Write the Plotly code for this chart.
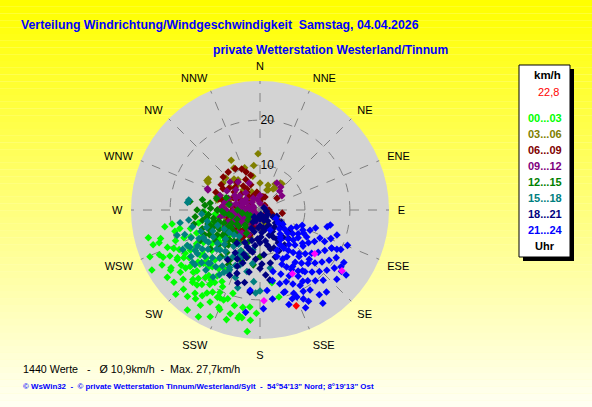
import plotly.graph_objects as go

W, H = 592, 407

# ---------------- data ----------------
dir_labels = ["N", "NNE", "NE", "ENE", "E", "ESE", "SE", "SSE",
              "S", "SSW", "SW", "WSW", "W", "WNW", "NW", "NNW"]
dir_ticks = [0, 22.5, 45, 67.5, 90, 112.5, 135, 157.5,
             180, 202.5, 225, 247.5, 270, 292.5, 315, 337.5]
radial_ticks = [10, 20]
radial_max = 28.7

group_names = ["00...03", "03...06", "06...09", "09...12",
               "12...15", "15...18", "18...21", "21...24"]
group_colors = ["#00ff00", "#808000", "#800000", "#800080",
                "#008000", "#008080", "#000080", "#0000ff"]

# (direction deg, speed km/h) per 3-hour block
pts_00_03 = [(261,19.8),(257,18.3),(256,25.6),(252,23.6),(247,26.6),(244,24),(241,27.5),(237,23.6),
             (235,21.4),(231,20),(224,24.5),(220,25.1),(216,24.4),(216,27.5),(210,27.4),(205,26.2),
             (203,23.5),(202,21.6),(191.5,24.5),(186,27.2),(189.5,24.3),(224,21.5),(220,21.8),(212.6,21.9),
             (210,21.1),(206,21.6),(240,19.2),(239,21.5),(219,19.3),(227,20.3),(248,22.2),(240.7,25),
             (204.4,21.5),(208.5,23.3),(186,21.7),(191,24),(185,24.6),(202,23.9),(167.7,19.8),(170.7,16.4),
             (245,9),(250,10),(255,11),(260,12),(265,10),(240,12),(235,13),(230,14),(225,15),(232,16),
             (238,17),(244,18),(228,18),(222,17),(215,16),(250,15),(255,16),(246,14),(236,11),(230,9),
             (258,8),(252,6),(262,9.5),(268,12.5),(215,19),(208,18),(198,19.5),(195,22),(212,25),(228,23),
             (234,25.5),(250,20),(254,23),(246,21),(232,22.5),(225,26.5),(197,25.5),(182,23),
             (233,16.7),(222,15),(240,17.9),(210,15.4),(226,17),(218,18.5),(236,19),(230,18),(242,16),
             (214,20),(222,20.5),(206,19),(240,21.2),(240,16.6),(227,17.3),(223,22),(206,20.4),
             (235,15.5),(228,16),(220,16.5),(213,17.5),(238,20),(232,21),(226,19.5),(218,21),(212,19),
             (244,20),(250,18),(256,19.5),(260,21.5),(252,25),(246,24.5),(236,24),(230,25),(218,23.5),
             (214,23),(200,21),(196,24),(190,22),(243,22.5),(249,16.5),(226,12.5),(232,11.5),(240,14.5),
             (258,14)]
pts_03_06 = [(328,11),(313,10.4),(299,13.5),(301,13.4),(348,7.7),(18,5.8),(34,5.9),(40,7.6),(19,4.7),
             (317,7.5),(307,8.4),(324,8.3),(283,9.8),(311,7.4),(320,5.8),(336,4.4),(32,5.5),(30,6.7),
             (37,7.5),(22,4.8),(306,10.2),(298,13.1),(287,10),(262,12.1),
             (245,5.4),(200,6.4),(184,6.5),(174,4.5),(230,7),(215,5),(255,3),(270,6),(280,4),(260,8),
             (240,9),(290,7),(300,5),(310,3),(330,3),(350,4),(0,6),(10,3),(225,3),(250,6.5),(275,8),
             (265,4.5),(235,5.5),(290,9.5),(320,9),(340,10),(352,10),(358,12.5),(330,12.8),(210,8),
             (195,4),(160,3)]
pts_06_09 = [(336,10),(329,10.7),(303,10.3),(292,10.6),(285,8.7),(305,8.4),(324,4.9),(21,3.1),(55,4.6),
             (98,5),(120,4.4),(202,6),(13,3),(108,2.8),(340,9),(320,11),(312,11),(345,8),
             (0,2),(45,1.5),(90,2),(135,1.5),(180,2),(225,2.5),(270,1.5),(315,2.5),(250,2),(290,2.5),
             (200,4),(215,3.5),(230,4.5),(245,3.5),(260,4.5),(275,3.5),(290,4.5),(305,3.5),(320,4),
             (335,3.5),(350,4),(205,6),(220,5.5),(235,6.5),(250,5.5),(265,6.5),(280,5.5),(295,6.5),
             (310,5.5),(325,6.5),(340,6),(215,8),(230,7.5),(245,8.5),(260,7.5),(275,8.5),(290,7.5),
             (305,7),(320,8),(335,7.5),(270,9.5),(285,9.5),(300,9.5),
             (240,5),(255,6),(268,5),(282,7),(298,5),(312,7.5),(328,5.5),(228,6.5),(212,7),(252,7.5),
             (262,3),(278,6.5)]
pts_09_12 = [(291,12.4),(292,12.6),(32,7.1),(57,5.8),(0,3.3),(322,7.9),(313,9.1),(42,6.9),(46,6.1),
             (338,6.5),(0,1.5),(60,1.2),(120,1.8),(180,1.5),(240,1.2),(300,1.8),
             (200,3),(220,2.5),(240,3.5),(255,2.5),(270,3.5),(285,2.5),(300,3.5),(315,2.5),(330,3),
             (345,2.5),(215,5),(230,4.5),(245,5.5),(255,4.5),(265,5.5),(275,4.5),(285,5.5),(295,4.5),
             (305,5.5),(320,5),(225,7),(240,6.5),(250,7.5),(260,6.5),(270,7.5),(280,6.5),(290,7.5),
             (300,6.5),(310,7),(245,8.5),(260,9),(275,8.5),(290,9.5),(300,8.5),
             (250,4),(260,3),(265,4.5),(275,3),(280,5),(250,6),(235,5.5),(225,4),(210,4.5),(205,6),
             (218,6.5),(232,8),(262,8),(282,8),(268,6),(258,5.5),(242,4.5),(288,4),(296,6),(308,4),
             (238,2.5),(270,2),(290,1.5)]
pts_12_15 = [(253,11.6),(229,10.2),(275,12.3),(211,13),(225,4.7),(243,14.9),(278,11.2),(268,12.7),
             (264,14.5),(277,15.7),(195,10.8),(180,10.4),(187,12.3),
             (235,8),(240,9),(245,10),(250,11),(255,12),(260,13),(245,7),(250,8.5),(255,9.5),(260,10.5),
             (265,11.5),(240,11),(235,12),(230,12),(225,11),(220,9),(230,8),(238,6),(248,5.5),(258,6.5),
             (265,8),(270,9.5),(272,11),(262,7),(252,13.5),(244,12.5),(236,10),(228,7.5),(218,12),
             (215,8.5),(205,10),(200,12),(210,14),(220,13.5),(232,14),(258,15),(270,14),(280,13),
             (285,10),(290,8),(280,7),(270,5),(260,4),(250,3),(240,2.5),(230,3.5),(220,5),(210,6),
             (200,7.5),(248,12),(256,10.5),(242,8),(234,9.5),(226,9.5),(252,9.5),(262,12),(268,8.5),
             (238,7.5),(232,6),(246,13.5),(222,10.5)]
pts_15_18 = [(223,16.2),(238,17),(207,14.9),(225,12.6),(204,10.9),(241,13.9),(252,17.6),(183,18.5),
             (276,16.2),(278,16),(261,18),(253,19.3),(243,19.3),(242,17.6),(230,18.9),(215,18.2),
             (207,15.5),(201,11.2),(170,13.1),
             (210,12),(215,13),(220,14),(225,15),(230,16),(235,17),(240,16),(245,15),(250,14),(228,13),
             (233,14.5),(238,13.5),(218,16),(212,17),(222,18),(232,19),(236,15.5),(244,18),(248,16.5),
             (226,11),(232,12),(240,12),(246,11.5),(216,10),(208,14.5),(200,16),(196,18),(192,14),
             (188,12),(200,13),(256,15.5),(262,16),(266,13),(258,12),(250,10),(242,9),(234,8.5),
             (226,8),(218,7.5),(212,9),(205,10),(198,10.5),(190,9),(185,16),(180,18),
             (214,15),(228,17.5),(236,18.5),(220,12),(244,14),(252,12.5),(230,10),(224,16.5),(210,16),
             (204,13.5)]
pts_18_21 = [(158,4.1),(154,6.7),(180,7.3),(194,9.2),(198,12.4),(197,17),(187,18.4),(172,15.7),
             (169,12),(151,8.4),(118,3.3),(157,1.7),(210,3.1),(199,8.7),(213,13.2),
             (140,2),(160,2.5),(180,2),(200,2.5),(220,2),(120,2),(100,1.5),(60,1),(150,4),(165,4.5),
             (175,5),(185,4),(195,5),(205,4.5),(140,5),(130,4.5),(160,6),(170,7),(185,6.5),(195,7),
             (205,8),(150,7.5),(140,8),(130,6),(120,5.5),(110,4),(165,9),(175,10),(185,11),(190,9.5),
             (200,10.5),(205,12),(210,11),(215,9),(180,13),(190,14),(200,15),(205,16),(192,16.5),
             (178,12),(162,11),(155,10),(145,9.5),(135,9),(125,8),(180,3.5),(170,1),(190,1.5),
             (170,4),(178,6),(188,8),(196,11),(202,13.5),(168,8),(160,9),(150,5.5),(145,3),(175,14.5)]
pts_21_24 = [(153,5),(115,10.5),(104,15.4),(115,14.7),(118,18.1),(117,19.2),(127,22.7),(141,23.5),
             (157,21),(164,19.1),(157,9.7),(143,7.5),
             (118,4),(122,6),(125,5),(128,7),(120,8),(115,9),(110,10),(112,12),(108,13),
             (118,11),(122,10),(126,9),(130,8),(132,10),(135,11),(128,12),(124,13),(120,14),(116,16),
             (112,17),(118,18),(122,17),(126,16),(130,15),(134,14),(138,13),(142,12),(145,11),(140,10),
             (136,9),(148,10),(150,12),(146,14),(142,15),(138,16),(134,17),(130,18),(126,19),(122,20),
             (125,22),(128,21),(132,20),(136,19),(140,18),(144,17),(148,16),(152,15),(155,14),(150,17),
             (146,19),(142,20),(138,21),(148,21),(152,19),(156,18),(160,17),(158,20),(154,22),(160,21),
             (163,19),(165,17),(162,15),(158,13),(155,12),(160,11),(168,14),(170,16),(175,18),(178,22),
             (187,18),(188,23),(172,20),(152,23),(145,23),(132,23),(127,24),(112,21),(116,20),(108,18),
             (102,16),(134,6),(140,7),(145,8),(150,9),(146,25),(155,24),(163,22),(122,22),
             (130,12.5),(126,10.5),(135,15.5),(140,13.5),(150,14.5),(145,16.5),(152,20.5),(156,16),
             (149,18.5),(120,12)]
groups = [pts_00_03, pts_03_06, pts_06_09, pts_09_12,
          pts_12_15, pts_15_18, pts_18_21, pts_21_24]

gust_pts = [(128.7,15.6),(126.6,22.7),(153,15.9),(177.5,20.2)]   # magenta marks
current_pt = (159.3,22.8)                                        # red mark
current_label = "22,8"

n_values = "1440"
mean_speed = "10,9"
max_speed = "27,7"

title_1 = "Verteilung Windrichtung/Windgeschwindigkeit  Samstag, 04.04.2026"
title_2 = "private Wetterstation Westerland/Tinnum"
footer = "\u00a9 WsWin32  -  \u00a9 private Wetterstation Tinnum/Westerland/Sylt  -  54\u00b054'13\" Nord; 8\u00b019'13\" Ost"

# ---------------- helpers ----------------
def px(x):
    return x / W

def py(y):
    return 1 - y / H

FONT = "Liberation Sans, Arial, sans-serif"
MSIZE = 5.8

fig = go.Figure()

for pts, name, col in zip(groups, group_names, group_colors):
    fig.add_trace(go.Scatterpolar(
        theta=[p[0] for p in pts], r=[p[1] for p in pts], mode="markers",
        name=name, marker=dict(symbol="diamond", size=MSIZE, color=col, line=dict(width=0)),
        showlegend=False))

fig.add_trace(go.Scatterpolar(
    theta=[p[0] for p in gust_pts], r=[p[1] for p in gust_pts], mode="markers",
    marker=dict(symbol="diamond", size=MSIZE, color="#ff00ff", line=dict(width=0)), showlegend=False))
fig.add_trace(go.Scatterpolar(
    theta=[current_pt[0]], r=[current_pt[1]], mode="markers",
    marker=dict(symbol="diamond", size=MSIZE, color="#ff0000", line=dict(width=0)), showlegend=False))

# background gradient (yellow -> pale yellow)
shapes = []
nb = 60
for i in range(nb):
    b = int(round(242 * i / (nb - 1)))
    shapes.append(dict(type="rect", xref="paper", yref="paper", x0=0, x1=1,
                       y0=py(H * (i + 1) / nb), y1=py(H * i / nb),
                       fillcolor=f"rgb(255,255,{b})", line=dict(width=0), layer="below"))

# legend box with shadow
shapes.append(dict(type="rect", xref="paper", yref="paper", x0=px(523), x1=px(574),
                   y0=py(261), y1=py(69), fillcolor="black", line=dict(width=0)))
shapes.append(dict(type="rect", xref="paper", yref="paper", x0=px(519), x1=px(570),
                   y0=py(257), y1=py(65), fillcolor="white", line=dict(color="black", width=1)))

ann = []
ann.append(dict(text="<b>" + title_1 + "</b>", x=px(19), y=py(25), xanchor="left", yanchor="middle",
                font=dict(family=FONT, size=12.3, color="#0000ff")))
ann.append(dict(text="<b>" + title_2 + "</b>", x=px(211), y=py(50), xanchor="left", yanchor="middle",
                font=dict(family=FONT, size=12.1, color="#0000ff")))
ann.append(dict(text=f"{n_values} Werte   -   \u00d8 {mean_speed}km/h  -  Max. {max_speed}km/h",
                x=px(21), y=py(369), xanchor="left", yanchor="middle",
                font=dict(family=FONT, size=10.7, color="black")))
ann.append(dict(text="<b>" + footer + "</b>", x=px(21), y=py(386), xanchor="left", yanchor="middle",
                font=dict(family=FONT, size=7.9, color="#0000ff")))

ann.append(dict(text="<b>km/h</b>", x=px(547), y=py(75), xanchor="center", yanchor="middle",
                font=dict(family=FONT, size=11.5, color="black")))
ann.append(dict(text=current_label, x=px(561), y=py(92), xanchor="right", yanchor="middle",
                font=dict(family=FONT, size=11, color="#ff0000")))
for i, (name, col) in enumerate(zip(group_names, group_colors)):
    ann.append(dict(text="<b>" + name + "</b>", x=px(545), y=py(118 + 16 * i), xanchor="center",
                    yanchor="middle", font=dict(family=FONT, size=11, color=col)))
ann.append(dict(text="<b>Uhr</b>", x=px(545), y=py(246), xanchor="center", yanchor="middle",
                font=dict(family=FONT, size=11, color="black")))
for a in ann:
    a.update(xref="paper", yref="paper", showarrow=False)

fig.update_layout(
    width=W, height=H, margin=dict(l=0, r=0, t=0, b=0),
    paper_bgcolor="#ffffc0", plot_bgcolor="rgba(0,0,0,0)",
    shapes=shapes, annotations=ann, showlegend=False,
    polar=dict(
        domain=dict(x=[px(131), px(389)], y=[py(339), py(81)]),
        bgcolor="#d3d3d3",
        angularaxis=dict(direction="clockwise", rotation=90, tickmode="array",
                         tickvals=dir_ticks, ticktext=dir_labels, showline=False,
                         showgrid=True, gridcolor="#808080", gridwidth=1, griddash="dash",
                         ticks="outside", ticklen=6, tickcolor="rgba(0,0,0,0)",
                         tickfont=dict(family=FONT, size=11, color="black")),
        radialaxis=dict(range=[0, radial_max], tickmode="array", tickvals=radial_ticks,
                        ticktext=[str(v) for v in radial_ticks], angle=90, tickangle=90,
                        showline=False, showgrid=True, gridcolor="#808080", gridwidth=1,
                        griddash="dash", ticks="", side="clockwise",
                        tickfont=dict(family=FONT, size=12, color="black")),
    ),
)

fig.write_html("out.html", config={"displayModeBar": False},
               post_script="document.body.style.margin='0';")
